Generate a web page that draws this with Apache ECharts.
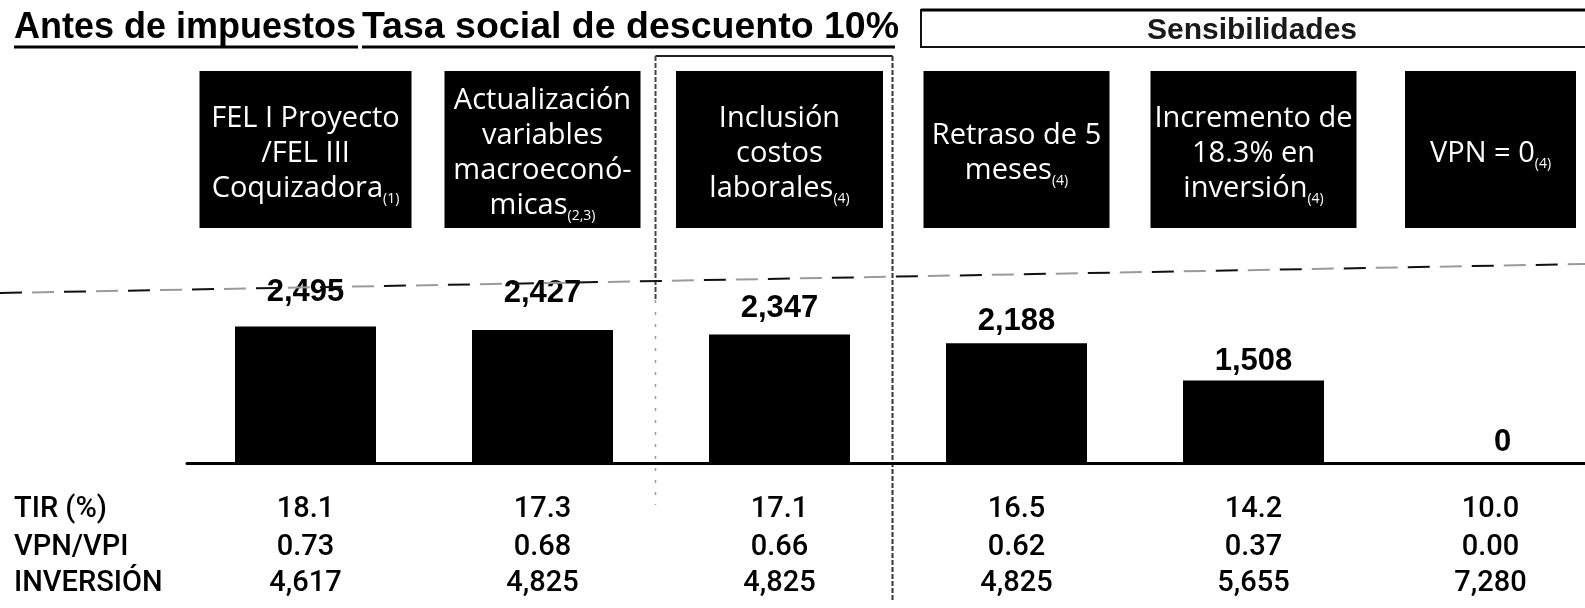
<!DOCTYPE html>
<html>
<head>
<meta charset="utf-8">
<script src="https://cdn.jsdelivr.net/npm/echarts@6/dist/echarts.min.js"></script>
<style>
  html, body { margin: 0; padding: 0; background: #fff; }
  #chart { width: 1585px; height: 608px; }
</style>
</head>
<body>
<div id="chart"></div>
<script>
// Scenario headings (one entry per line) and their footnote markers
const scenarios = [
  ['FEL I Proyecto', '/FEL III', 'Coquizadora'],
  ['Actualización', 'variables', 'macroeconó-', 'micas'],
  ['Inclusión', 'costos', 'laborales'],
  ['Retraso de 5', 'meses'],
  ['Incremento de', '18.3% en', 'inversión'],
  ['VPN = 0']
];
const notes = ['(1)', '(2,3)', '(4)', '(4)', '(4)', '(4)'];

// VPN per scenario (bars)
const vpnValues = [2495, 2427, 2347, 2188, 1508, 0];

// Indicator table below the bars
const tirValues = [18.1, 17.3, 17.1, 16.5, 14.2, 10.0];
const vpnVpiValues = [0.73, 0.68, 0.66, 0.62, 0.37, 0.00];
const investmentValues = [4617, 4825, 4825, 4825, 5655, 7280];
const rowLabels = ['TIR (%)', 'VPN/VPI', 'INVERSIÓN'];

const titleParts = ['Antes de impuestos', 'Tasa social de descuento 10%'];
const groupLabel = 'Sensibilidades';

// Layout / style constants
const headerWidths = [212, 196, 207, 186, 206, 171];
const labelGaps = [18, 21, 11, 6, 3, 5];
const labelShiftX = [0, 0, 0, 0, 0, 12];
const HEADER_TOP = 71, HEADER_H = 157;
const ROW_Y = [510, 548, 584];

const categories = scenarios.map(l => l.join(' '));
const fmtInt = v => v.toLocaleString('en-US');

const chart = echarts.init(document.getElementById('chart'), null, { renderer: 'canvas' });

chart.setOption({
  animation: false,
  backgroundColor: '#fff',
  grid: { left: 187, width: 1422, top: 244, bottom: 145, outerBoundsMode: 'none', containLabel: false },
  xAxis: {
    type: 'category',
    data: categories,
    axisLine: { lineStyle: { color: '#000', width: 3 } },
    axisTick: { show: false },
    axisLabel: { show: false },
    splitLine: { show: false }
  },
  yAxis: { type: 'value', min: 0, max: 4000, show: false },
  series: [{
    type: 'bar',
    barWidth: 141,
    itemStyle: { color: '#000' },
    label: {
      show: true,
      position: 'top',
      formatter: p => fmtInt(p.value),
      fontFamily: 'Liberation Sans',
      fontWeight: 'bold',
      fontSize: 31,
      color: '#000'
    },
    data: vpnValues.map((v, i) => ({ value: v, label: { distance: labelGaps[i], offset: [labelShiftX[i], 0] } }))
  }]
});

const cx = categories.map(c => chart.convertToPixel({ xAxisIndex: 0 }, c));
const graphics = [];

// Title with underlines
graphics.push({ type: 'text', x: 14, y: 28, style: { text: titleParts[0], font: 'bold 36px "Liberation Sans", Arial, sans-serif', fill: '#000', verticalAlign: 'middle', align: 'left' } });
graphics.push({ type: 'text', x: 362, y: 28, style: { text: titleParts[1], font: 'bold 37.5px "Liberation Sans", Arial, sans-serif', fill: '#000', verticalAlign: 'middle', align: 'left' } });
graphics.push({ type: 'line', shape: { x1: 14, y1: 47, x2: 358, y2: 47 }, style: { stroke: '#000', lineWidth: 3 } });
graphics.push({ type: 'line', shape: { x1: 362, y1: 47, x2: 895, y2: 47 }, style: { stroke: '#000', lineWidth: 3 } });

// Sensitivity group box
graphics.push({ type: 'rect', shape: { x: 921, y: 10, width: 700, height: 37 }, style: { fill: '#fff', stroke: '#111', lineWidth: 2 } });
graphics.push({ type: 'line', shape: { x1: 921, y1: 10, x2: 1585, y2: 10 }, style: { stroke: '#000', lineWidth: 3 } });
graphics.push({ type: 'text', x: 1252, y: 31, style: { text: groupLabel, font: 'bold 30px "Liberation Sans", Arial, sans-serif', fill: '#1a1a1a', align: 'center', verticalAlign: 'middle' } });

// Frame around the third scenario
const fl = cx[2] - 124, fr = cx[2] + 113;
graphics.push({ type: 'line', shape: { x1: fl, y1: 56, x2: fr, y2: 56 }, style: { stroke: '#222', lineWidth: 2 } });
graphics.push({ type: 'line', shape: { x1: fl, y1: 56, x2: fl, y2: 300 }, style: { stroke: '#444', lineWidth: 2, lineDash: [5, 2] } });
graphics.push({ type: 'line', shape: { x1: fl, y1: 300, x2: fl, y2: 505 }, style: { stroke: '#999', lineWidth: 1.5, lineDash: [3, 9] } });
graphics.push({ type: 'line', shape: { x1: fr, y1: 56, x2: fr, y2: 600 }, style: { stroke: '#333', lineWidth: 2, lineDash: [5, 2] } });

// Slanted dashed reference line (alternating dark / grey dashes)
graphics.push({ type: 'line', z: 100, shape: { x1: 0, y1: 293, x2: 1585, y2: 264 }, style: { stroke: '#111', lineWidth: 2, lineDash: [22, 42] } });
graphics.push({ type: 'line', z: 100, shape: { x1: 0, y1: 293, x2: 1585, y2: 264 }, style: { stroke: '#9a9a9a', lineWidth: 2, lineDash: [22, 42], lineDashOffset: -32 } });

// Scenario header boxes
const headerFamily = '"Open Sans", "Noto Sans", sans-serif';
scenarios.forEach((lines, i) => {
  const w = headerWidths[i];
  graphics.push({ type: 'rect', shape: { x: cx[i] - w / 2, y: HEADER_TOP, width: w, height: HEADER_H }, style: { fill: '#000' } });
  const text = lines.join('\n') + '{s|' + notes[i] + '}';
  graphics.push({
    type: 'text', x: cx[i], y: HEADER_TOP + HEADER_H / 2 + 4,
    style: {
      text: text,
      fill: '#fff',
      fontFamily: headerFamily,
      fontSize: 29,
      lineHeight: 35,
      align: 'center',
      verticalAlign: 'middle',
      rich: { s: { fill: '#fff', fontFamily: headerFamily, fontSize: 14, lineHeight: 17, verticalAlign: 'bottom' } }
    }
  });
});

// Indicator table
const tableFont = '500 29px Roboto, "Open Sans", sans-serif';
const rows = [
  tirValues.map(v => v.toFixed(1)),
  vpnVpiValues.map(v => v.toFixed(2)),
  investmentValues.map(fmtInt)
];
rowLabels.forEach((lab, r) => {
  graphics.push({ type: 'text', x: 14, y: ROW_Y[r], style: { text: lab, font: tableFont, fill: '#000', align: 'left', verticalAlign: 'middle' } });
  rows[r].forEach((t, i) => {
    graphics.push({ type: 'text', x: cx[i], y: ROW_Y[r], style: { text: t, font: tableFont, fill: '#000', align: 'center', verticalAlign: 'middle' } });
  });
});

chart.setOption({ graphic: { elements: graphics } });
</script>
</body>
</html>
